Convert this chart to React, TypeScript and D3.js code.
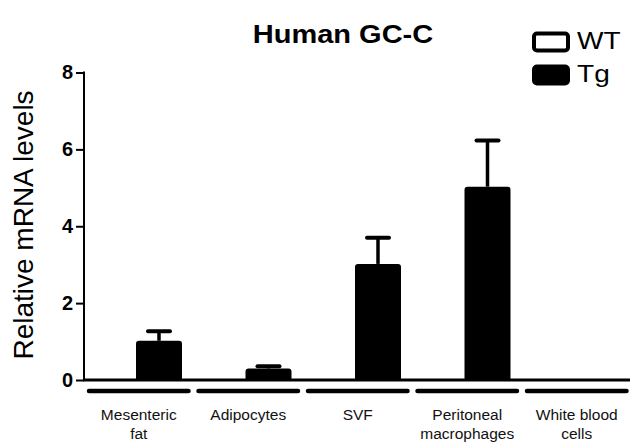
import { useEffect, useRef } from 'react'
import * as d3 from 'd3'

// Chart data
const categories = ['Mesenteric fat', 'Adipocytes', 'SVF', 'Peritoneal macrophages', 'White blood cells']
const categoryLines = [['Mesenteric', 'fat'], ['Adipocytes'], ['SVF'], ['Peritoneal', 'macrophages'], ['White blood', 'cells']]
const groups = ['WT', 'Tg']
const wtValues = [0, 0, 0, 0, 0]
const wtErrors = [0, 0, 0, 0, 0]
const tgValues = [1.02, 0.3, 3.02, 5.03, 0]
const tgErrors = [0.25, 0.06, 0.68, 1.2, 0]
const yTicks = [0, 2, 4, 6, 8]

const FONT = "'Liberation Sans', Arial, sans-serif"

const App = () => {
  const svgRef = useRef<SVGSVGElement | null>(null)
  const width = 630
  const height = 445

  useEffect(() => {
    const svg = d3.select(svgRef.current)
    svg.selectAll('*').remove()

    const x0 = d3.scaleBand<string>().domain(categories).range([84, 631.5])
    const x1 = d3.scaleBand<string>().domain(groups).range([6, 98])
    const y = d3.scaleLinear().domain([0, 8]).range([380, 72.5])

    const series = [
      { name: 'WT', values: wtValues, errors: wtErrors, fill: '#fff' },
      { name: 'Tg', values: tgValues, errors: tgErrors, fill: '#000' },
    ]

    // Bars + error bars
    series.forEach((s) => {
      const g = svg.append('g')
      categories.forEach((c, i) => {
        const v = s.values[i]
        if (v <= 0) return
        const bx = x0(c)! + x1(s.name)!
        const bw = x1.bandwidth()
        const top = y(v)
        const errTop = y(v + s.errors[i])
        const cx = bx + bw / 2
        // error stem
        g.append('line')
          .attr('x1', cx)
          .attr('x2', cx)
          .attr('y1', top)
          .attr('y2', errTop)
          .attr('stroke', '#000')
          .attr('stroke-width', 3.5)
        // error cap
        g.append('line')
          .attr('x1', cx - 11)
          .attr('x2', cx + 11)
          .attr('y1', errTop)
          .attr('y2', errTop)
          .attr('stroke', '#000')
          .attr('stroke-width', 4)
          .attr('stroke-linecap', 'round')
        g.append('rect')
          .attr('x', bx + 1)
          .attr('y', top + 1)
          .attr('width', bw - 2)
          .attr('height', y(0) - top - 1)
          .attr('rx', 2)
          .attr('fill', s.fill)
          .attr('stroke', '#000')
          .attr('stroke-width', 2)
      })
    })

    // Y axis
    const yAxis = d3
      .axisLeft(y)
      .tickValues(yTicks)
      .tickSize(8)
      .tickPadding(3)
      .tickFormat((d) => String(d))
    const yAxisGroup = svg.append('g').attr('transform', 'translate(84,0)').call(yAxis)
    yAxisGroup.select('.domain').remove()
    yAxisGroup.selectAll('line').attr('stroke', '#000').attr('stroke-width', 2)
    yAxisGroup
      .selectAll('text')
      .attr('fill', '#000')
      .attr('font-family', FONT)
      .attr('font-weight', 'bold')
      .attr('font-size', '20px')
    svg
      .append('line')
      .attr('x1', 84)
      .attr('x2', 84)
      .attr('y1', y(8) - 1)
      .attr('y2', y(0))
      .attr('stroke', '#000')
      .attr('stroke-width', 2)

    // Baseline
    svg
      .append('line')
      .attr('x1', 83)
      .attr('x2', 630)
      .attr('y1', y(0))
      .attr('y2', y(0))
      .attr('stroke', '#000')
      .attr('stroke-width', 3)

    // Segmented category axis
    categories.forEach((c, i) => {
      const bx = x0(c)!
      svg
        .append('line')
        .attr('x1', bx + 5)
        .attr('x2', bx + x0.bandwidth() - 5)
        .attr('y1', 391)
        .attr('y2', 391)
        .attr('stroke', '#000')
        .attr('stroke-width', 4.5)
        .attr('stroke-linecap', 'round')
      const t = svg
        .append('text')
        .attr('text-anchor', 'middle')
        .attr('font-family', FONT)
        .attr('font-size', '15.5px')
        .attr('fill', '#111')
      categoryLines[i].forEach((line, j) => {
        t.append('tspan')
          .attr('x', bx + x0.bandwidth() / 2)
          .attr('y', 420 + j * 19)
          .text(line)
      })
    })

    // Y title
    svg
      .append('text')
      .attr('transform', 'translate(33,225) rotate(-90)')
      .attr('text-anchor', 'middle')
      .attr('font-family', FONT)
      .attr('font-size', '28px')
      .attr('fill', '#000')
      .text('Relative mRNA levels')

    // Title (horizontally stretched as in the original)
    svg
      .append('text')
      .attr('transform', 'translate(343,43) scale(1.16,1)')
      .attr('text-anchor', 'middle')
      .attr('font-family', FONT)
      .attr('font-weight', 'bold')
      .attr('font-size', '25px')
      .attr('fill', '#000')
      .text('Human GC-C')

    // Legend
    series.forEach((s, i) => {
      const ly = 32 + i * 33
      svg
        .append('rect')
        .attr('x', 534)
        .attr('y', ly + 1.5)
        .attr('width', 34)
        .attr('height', 17)
        .attr('rx', 3)
        .attr('fill', s.fill)
        .attr('stroke', '#000')
        .attr('stroke-width', 4)
      svg
        .append('text')
        .attr('transform', `translate(577,${ly + 17}) scale(1.22,1)`)
        .attr('font-family', FONT)
        .attr('font-size', '23px')
        .attr('fill', '#000')
        .text(s.name)
    })
  }, [])

  return (
    <svg
      ref={svgRef}
      width={width}
      height={height}
      style={{ position: 'absolute', left: 0, top: 0, background: '#fff' }}
    />
  )
}

export default App
